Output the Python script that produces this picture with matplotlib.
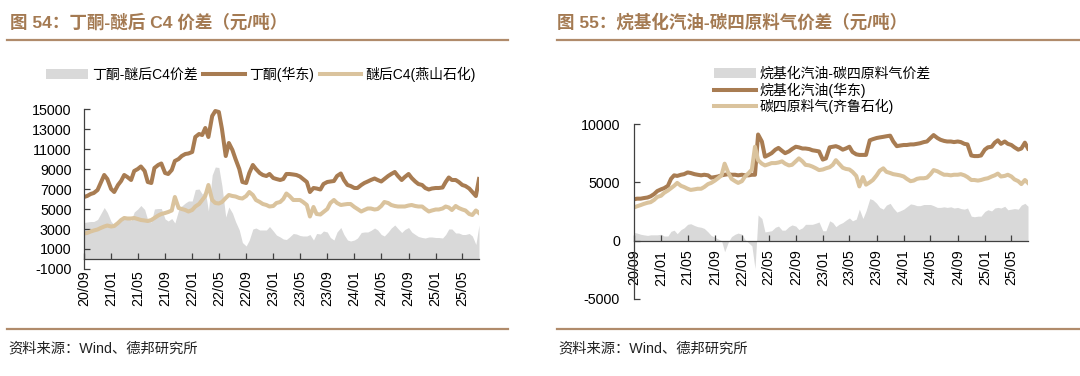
import numpy as np
import pandas as pd
import matplotlib
matplotlib.use('Agg')
import matplotlib.pyplot as plt
import matplotlib.dates as mdates
from matplotlib.lines import Line2D

plt.rcParams['font.family'] = ['Liberation Sans', 'Noto Sans CJK SC']
plt.rcParams['axes.unicode_minus'] = False

# ---- data, semi-monthly points from 2020-09 ----
# 图54: 丁酮(华东) / 醚后C4(燕山石化)
mek = [6200, 6300, 6500, 6600, 6900, 7600, 8400, 8000, 7000, 6700,
       7400, 7800, 8400, 8200, 7900, 8800, 9000, 9250, 8800, 7700,
       7600, 9100, 9400, 9550, 8600, 8500, 8900, 9800, 10000, 10300,
       10500, 10550, 10700, 12200, 12500, 12400, 13100, 12200, 14300, 14800,
       14700, 13000, 10300, 11600, 10900, 10000, 9000, 7700, 7600, 8600,
       9400, 9000, 8600, 8400, 8300, 8500, 8100, 8000, 7900, 8000,
       8500, 8500, 8450, 8400, 8250, 8000, 7700, 6700, 7100, 7050,
       6950, 7500, 7700, 7750, 7800, 8300, 8550, 7900, 7400, 7300,
       7100, 7100, 7400, 7600, 7750, 7900, 8050, 7900, 7750, 8000,
       8300, 8500, 8700, 8300, 7900, 8200, 8500, 8100, 7750, 7500,
       7400, 7100, 6950, 7050, 7100, 7100, 7150, 7700, 8150, 7900,
       7900, 7700, 7400, 7300, 7050, 6700, 6300, 8000]
c4_ys = [2550, 2600, 2750, 2850, 2950, 3100, 3250, 3350, 3250, 3300,
         3600, 3900, 4100, 4050, 4050, 4100, 4000, 3900, 3850, 3800,
         3900, 4100, 4350, 4500, 4600, 4700, 4850, 6200, 5100, 5000,
         4900, 4750, 4900, 5250, 5500, 5900, 6300, 7400, 5900, 5600,
         5550, 5700, 6100, 6400, 6300, 6250, 6100, 6050, 6300, 6700,
         6400, 5900, 5700, 5500, 5400, 5250, 5300, 5600, 5700, 6000,
         6550, 6300, 5900, 5900, 5900, 5700, 5400, 4250, 5200, 4500,
         4450, 4700, 5000, 5600, 5900, 5600, 5400, 5450, 5500, 5500,
         5200, 5000, 4750, 4900, 5050, 5050, 4950, 5000, 5300, 5700,
         5600, 5400, 5300, 5250, 5250, 5250, 5350, 5400, 5300, 5250,
         5250, 5000, 4750, 4850, 4950, 4950, 5050, 5250, 5150, 4900,
         5300, 5100, 4950, 4850, 4500, 4400, 4850, 4600]

# 图55: 烷基化汽油(华东) / 碳四原料气(齐鲁石化)
alky = [3550, 3600, 3600, 3650, 3700, 3800, 4000, 4250, 4400, 4500,
        4700, 5300, 5600, 5550, 5650, 5700, 5850, 5800, 5700, 5650,
        5600, 5650, 5600, 5400, 5450, 5500, 5600, 5650, 5700, 5650,
        5650, 5600, 5650, 5600, 5600, 5650, 5650, 9100, 8500, 7200,
        7350, 7500, 7800, 7950, 7700, 7500, 7650, 7850, 8050, 8000,
        7900, 7900, 7850, 7750, 7700, 7650, 6950, 7050, 8000, 8050,
        8100, 8000, 7800, 7900, 8050, 7600, 7400, 7350, 7350, 7350,
        8600, 8700, 8800, 8850, 8900, 8950, 9000, 8500, 8100, 8150,
        8200, 8200, 8250, 8250, 8300, 8350, 8450, 8500, 8800, 9050,
        8800, 8650, 8550, 8500, 8500, 8450, 8500, 8450, 8300, 8250,
        7300, 7250, 7250, 7300, 7800, 8000, 8050, 8400, 8600, 8300,
        8500, 8300, 8200, 8000, 7800, 7900, 8400, 7900]
c4_ql = [2850, 2950, 3050, 3150, 3250, 3300, 3500, 3750, 3850, 4100,
         4300, 4500, 4700, 4950, 4700, 4600, 4450, 4350, 4400, 4450,
         4450, 4600, 4850, 4950, 5150, 5350, 5600, 6600, 5800, 5300,
         5100, 4950, 5100, 5500, 5800, 6100, 8050, 6900, 6600, 6450,
         6550, 6650, 6650, 6700, 6800, 6600, 6450, 6500, 6800, 7050,
         6800, 6500, 6450, 6350, 6200, 6050, 6100, 6200, 6300, 6500,
         6900, 6600, 6250, 6150, 6100, 5900, 5550, 4650, 5450, 4800,
         5000, 5200, 5600, 6000, 6200, 5900, 5800, 5700, 5650, 5600,
         5500, 5300, 5100, 5150, 5300, 5350, 5350, 5400, 5700, 6050,
         5950, 5800, 5650, 5650, 5600, 5650, 5650, 5700, 5600, 5450,
         5200, 5200, 5150, 5200, 5300, 5350, 5500, 5600, 5750, 5500,
         5550, 5650, 5500, 5250, 5100, 4850, 5200, 4950]

dates = pd.date_range('2020-09-01', periods=len(mek), freq='SMS')
xticks = pd.date_range('2020-09-01', '2025-05-01', freq='4MS')

BROWN = '#A87C52'
TAN = '#DAC39D'
GRAY = '#D9D9D9'
RULE = '#B08B6B'
TITLE = '#A47A52'
CJK = ['Liberation Sans', 'Noto Sans CJK SC']

fig = plt.figure(figsize=(10.8, 3.76), dpi=100)
W, H = 1080, 376


def axes_px(x0, x1, ytop, ybot):
    return fig.add_axes([x0 / W, 1 - ybot / H, (x1 - x0) / W, (ybot - ytop) / H])


def style(ax, ypad, xpad):
    for s in ['top', 'right']:
        ax.spines[s].set_visible(False)
    ax.spines['bottom'].set_position(('data', 0))
    for s in ['left', 'bottom']:
        ax.spines[s].set_color('#404040')
        ax.spines[s].set_linewidth(0.9)
    ax.tick_params(direction='in', length=4, width=0.9, color='#404040',
                   labelsize=10.3, labelcolor='black')
    ax.tick_params(axis='y', pad=ypad)
    ax.tick_params(axis='x', pad=xpad, labelrotation=90)
    ax.set_xticks(xticks)
    ax.xaxis.set_major_formatter(mdates.DateFormatter('%y/%m'))
    ax.set_xlim(dates[0], dates[-1])


# left chart
ax1 = axes_px(84, 479, 109, 269)
spread1 = np.array(mek) - np.array(c4_ys)
ax1.fill_between(dates, 0, spread1, color=GRAY, lw=0, label='丁酮-醚后C4价差')
ax1.plot(dates, mek, color=BROWN, lw=2.9, label='丁酮(华东)')
ax1.plot(dates, c4_ys, color=TAN, lw=2.9, label='醚后C4(燕山石化)')
ax1.set_ylim(-1000, 15000)
ax1.set_yticks(np.arange(-1000, 15001, 2000))
style(ax1, 9, 8)
ax1.legend(loc='center', bbox_to_anchor=(261 / W, 1 - 74 / H),
           bbox_transform=fig.transFigure, ncol=3, frameon=False,
           fontsize=10, handlelength=3.0, handletextpad=0.3,
           columnspacing=0.4, borderpad=0)

# right chart
ax2 = axes_px(634, 1028, 124, 299)
spread2 = np.array(alky) - np.array(c4_ql)
ax2.fill_between(dates, 0, spread2, color=GRAY, lw=0, label='烷基化汽油-碳四原料气价差')
ax2.plot(dates, alky, color=BROWN, lw=2.9, label='烷基化汽油(华东)')
ax2.plot(dates, c4_ql, color=TAN, lw=2.9, label='碳四原料气(齐鲁石化)')
ax2.set_ylim(-5000, 10000)
ax2.set_yticks([-5000, 0, 5000, 10000])
style(ax2, 10, 6.5)
ax2.legend(loc='upper left', bbox_to_anchor=(707 / W, 1 - 60 / H),
           bbox_transform=fig.transFigure, ncol=1, frameon=False,
           fontsize=10, handlelength=3.0, handletextpad=0.3,
           labelspacing=0.1, borderpad=0)

# titles, rules, sources
fig.text(10 / W, 1 - 22 / H, '图 54：丁酮-醚后 C4 价差（元/吨）', color=TITLE,
         fontsize=12.6, fontweight='bold', va='center', family=CJK)
fig.text(557 / W, 1 - 22 / H, '图 55：烷基化汽油-碳四原料气价差（元/吨）', color=TITLE,
         fontsize=12.6, fontweight='bold', va='center', family=CJK)
for x0, x1 in [(7, 508), (557, 1080)]:
    for y in (40, 329):
        fig.add_artist(Line2D([x0 / W, x1 / W], [1 - y / H, 1 - y / H],
                              color=RULE, lw=1.6))
    fig.text((x0 + 1) / W, 1 - 349 / H, '资料来源：Wind、德邦研究所', color='#222222',
             fontsize=10.3, va='center', family=CJK)

fig.savefig('out.png', dpi=100)
